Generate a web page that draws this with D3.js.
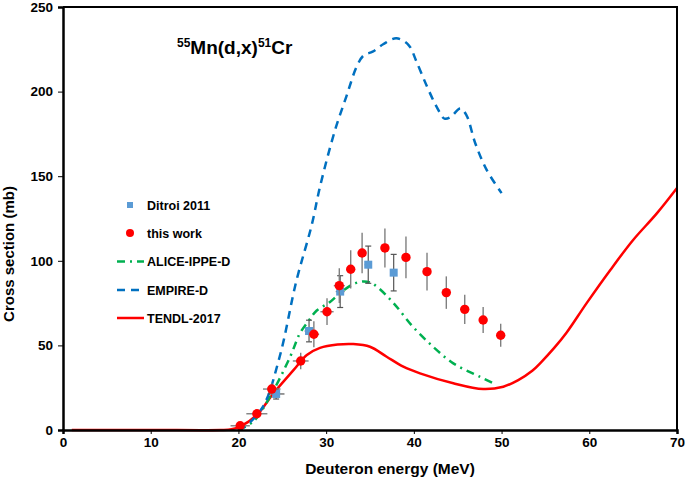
<!DOCTYPE html>
<html>
<head>
<meta charset="utf-8">
<script src="https://cdn.jsdelivr.net/npm/d3@7"></script>
<style>
  body { margin: 0; background: #fff; }
  text { font-family: "Liberation Sans", Arial, sans-serif; font-weight: bold; fill: #000; }
</style>
</head>
<body>
<svg id="chart" width="685" height="482"></svg>
<script>
// this work
const workE = [20.2, 22.1, 23.8, 27.1, 28.6, 30.1, 31.5, 32.8, 34.1, 36.7, 39.1, 41.5, 43.7, 45.8, 47.9, 49.9]
const workXS = [2.5, 9.6, 24.2, 40.8, 56.6, 69.9, 85.3, 95, 104.6, 107.6, 102, 93.6, 81.2, 71.3, 65, 56]
const workDXS = [1.5, 2, 3.4, 4.9, 7.7, 7.9, 10.3, 11.3, 12, 11.5, 12.3, 11.2, 9.6, 8.6, 7.7, 6.8]
const workDE = [1.1, 1.2, 1.0, 0.9, 0.6, 0.75, 0.63, 0, 0, 0, 0, 0, 0, 0, 0, 0]

// Ditroi 2011
const ditroiE = [24.3, 28.05, 31.6, 34.8, 37.7]
const ditroiXS = [21.3, 58.5, 81.8, 97.7, 93]
const ditroiDXS = [3, 6.4, 9.4, 11, 10.8]
const ditroiDE = [0.95, 0.5, 0.5, 0.4, 0.3]

// model curves
const aliceE = [20, 21.7, 23.6, 25.9, 27.0, 28.0, 28.9, 30.4, 31.5, 33.0, 34.2, 35.0, 35.8, 37.7, 39.9, 42.2, 44.5, 47.5, 49.1]
const aliceXS = [0, 5, 19.7, 43.3, 57, 64.5, 70.5, 75.5, 80.5, 86, 87.8, 87.2, 84.7, 74.9, 61, 49.2, 39.4, 31.5, 27.6]

const empireE = [20, 20.75, 22.8, 24.7, 26.6, 28.35, 29.3, 31.0, 32.3, 33.5, 34.3, 35.3, 36.5, 38.0, 39.4, 40.3, 41.5, 42.6, 43.5, 44.2, 45.3, 46.0, 47.0, 48.3, 50]
const empireXS = [0, 2, 13.8, 43.3, 88, 121, 143.8, 177, 197, 215, 221.5, 223.6, 228, 231.5, 227.5, 217.7, 203, 191, 184, 185, 190, 186, 169.5, 153.7, 140]

const tendlE = [1, 10, 18, 19.2, 20.2, 22.1, 24.0, 26.3, 27.8, 29.3, 31.3, 33.1, 35.0, 36.9, 38.8, 40.7, 44.5, 47.9, 50.2, 51.9, 53.5, 54.5, 56.0, 57.4, 59.7, 62.4, 65.0, 67.7, 70]
const tendlXS = [0, 0, 0, 0.4, 2, 8.9, 21.7, 35.5, 44.3, 48.5, 50.5, 50.8, 49.2, 43.3, 37.4, 33.5, 27.6, 24.2, 25.6, 29.5, 35, 40, 48.5, 57.5, 75, 94.6, 112.3, 128, 143]

const xTicks = [0, 10, 20, 30, 40, 50, 60, 70]
const yTicks = [0, 50, 100, 150, 200, 250]

const x = d3.scaleLinear().domain([0, 70]).range([63, 677])
const y = d3.scaleLinear().domain([0, 250]).range([430, 7])

const chart = d3.select('#chart')

const zip = (a, b) => a.map((v, i) => [v, b[i]])
const line = d3.line().x(d => x(d[0])).y(d => y(d[1])).curve(d3.curveCatmullRom.alpha(0.5))

// model lines
chart.append('path').datum(zip(tendlE, tendlXS))
    .attr('d', line).attr('fill', 'none').attr('stroke', '#ff0000').attr('stroke-width', 2.5)
chart.append('path').datum(zip(aliceE, aliceXS))
    .attr('d', line).attr('fill', 'none').attr('stroke', '#00b050').attr('stroke-width', 2.5)
    .attr('stroke-dasharray', '8,5,2,5')
chart.append('path').datum(zip(empireE, empireXS))
    .attr('d', line).attr('fill', 'none').attr('stroke', '#0070c0').attr('stroke-width', 2.5)
    .attr('stroke-dasharray', '8,6')

// Ditroi error bars and squares
const ditroi = ditroiE.map((e, i) => ({ e, v: ditroiXS[i], dv: ditroiDXS[i], de: ditroiDE[i] }))
const dg = chart.append('g').attr('stroke', '#555').attr('stroke-width', 1.2)
dg.selectAll().data(ditroi).enter().append('line')
    .attr('x1', d => x(d.e)).attr('x2', d => x(d.e))
    .attr('y1', d => y(d.v - d.dv)).attr('y2', d => y(d.v + d.dv))
dg.selectAll().data(ditroi).enter().append('line')
    .attr('x1', d => x(d.e - d.de)).attr('x2', d => x(d.e + d.de))
    .attr('y1', d => y(d.v)).attr('y2', d => y(d.v))
dg.selectAll().data(ditroi.flatMap(d => [d.v - d.dv, d.v + d.dv].map(v => ({ e: d.e, v })))).enter().append('line')
    .attr('x1', d => x(d.e) - 3).attr('x2', d => x(d.e) + 3)
    .attr('y1', d => y(d.v)).attr('y2', d => y(d.v))
chart.selectAll().data(ditroi).enter().append('rect')
    .attr('x', d => x(d.e) - 4).attr('y', d => y(d.v) - 4)
    .attr('width', 8).attr('height', 8).attr('fill', '#5b9bd5')

// this work error bars and circles
const work = workE.map((e, i) => ({ e, v: workXS[i], dv: workDXS[i], de: workDE[i] }))
const wg = chart.append('g').attr('stroke', '#7f7f7f').attr('stroke-width', 1.4)
wg.selectAll().data(work).enter().append('line')
    .attr('x1', d => x(d.e)).attr('x2', d => x(d.e))
    .attr('y1', d => y(d.v - d.dv)).attr('y2', d => y(d.v + d.dv))
wg.selectAll().data(work.filter(d => d.de > 0)).enter().append('line')
    .attr('x1', d => x(d.e - d.de)).attr('x2', d => x(d.e + d.de))
    .attr('y1', d => y(d.v)).attr('y2', d => y(d.v))
chart.selectAll().data(work).enter().append('circle')
    .attr('cx', d => x(d.e)).attr('cy', d => y(d.v)).attr('r', 4.7)
    .attr('fill', '#ff0000')

// frame
chart.append('path')
    .attr('d', `M${x(0)},${y(250)}H${x(70)}V${y(0)}`)
    .attr('fill', 'none').attr('stroke', '#000').attr('stroke-width', 2)

// axes
const xAxis = chart.append('g').attr('transform', `translate(0,${y(0)})`)
    .call(d3.axisBottom(x).tickValues(xTicks).tickSize(4).tickPadding(3))
const yAxis = chart.append('g').attr('transform', `translate(${x(0)},0)`)
    .call(d3.axisLeft(y).tickValues(yTicks).tickSize(5).tickPadding(5))
for (const ax of [xAxis, yAxis]) {
    ax.select('.domain').attr('stroke', '#000').attr('stroke-width', 2.5)
    ax.selectAll('.tick line').attr('stroke', '#000').attr('stroke-width', 1)
    ax.selectAll('.tick text').attr('font-size', 13.5).attr('font-family', '"Liberation Sans", Arial, sans-serif')
        .attr('font-weight', 'bold').attr('fill', '#000')
}

// axis titles
chart.append('text').text('Deuteron energy (MeV)')
    .attr('x', 390).attr('y', 474).attr('text-anchor', 'middle').attr('font-size', 15.5)
chart.append('text').text('Cross section (mb)')
    .attr('transform', 'translate(14,254) rotate(-90)').attr('text-anchor', 'middle').attr('font-size', 15)

// title
const title = chart.append('text').attr('x', 177).attr('y', 54).attr('font-size', 19)
title.append('tspan').text('55').attr('font-size', 12).attr('dy', -7)
title.append('tspan').text('Mn(d,x)').attr('dy', 7)
title.append('tspan').text('51').attr('font-size', 12).attr('dy', -7)
title.append('tspan').text('Cr').attr('dy', 7)

// legend
const legendNames = ['Ditroi 2011', 'this work', 'ALICE-IPPE-D', 'EMPIRE-D', 'TENDL-2017']
const legendY = [205, 233, 261.5, 290, 318]
const lg = chart.append('g')
lg.append('rect').attr('x', 127).attr('y', legendY[0] - 3).attr('width', 6).attr('height', 6).attr('fill', '#5b9bd5')
lg.append('circle').attr('cx', 130).attr('cy', legendY[1]).attr('r', 4).attr('fill', '#ff0000')
lg.append('line').attr('x1', 117).attr('x2', 144).attr('y1', legendY[2]).attr('y2', legendY[2])
    .attr('stroke', '#00b050').attr('stroke-width', 2.5).attr('stroke-dasharray', '8,5,2,5')
lg.append('line').attr('x1', 117).attr('x2', 144).attr('y1', legendY[3]).attr('y2', legendY[3])
    .attr('stroke', '#0070c0').attr('stroke-width', 2.5).attr('stroke-dasharray', '8,6')
lg.append('line').attr('x1', 117).attr('x2', 144).attr('y1', legendY[4]).attr('y2', legendY[4])
    .attr('stroke', '#ff0000').attr('stroke-width', 2.5)
lg.selectAll().data(legendNames).enter().append('text')
    .text(d => d)
    .attr('x', 147).attr('y', (d, i) => legendY[i] + 4.5).attr('font-size', 12.5)
</script>
</body>
</html>
